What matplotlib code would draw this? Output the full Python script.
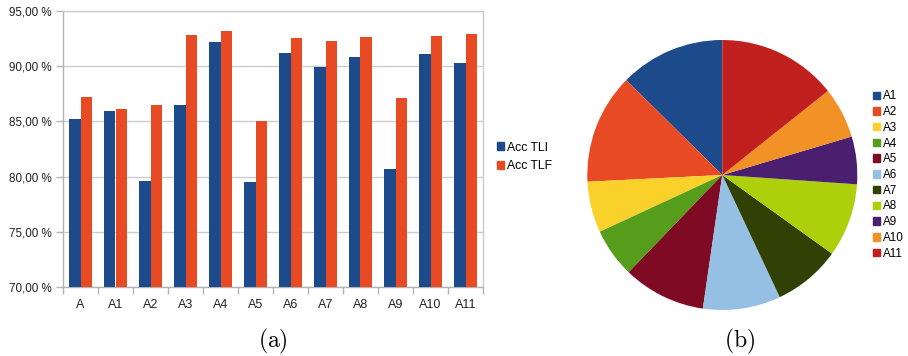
import matplotlib.pyplot as plt
import numpy as np
from matplotlib.patches import Patch

plt.rcParams['font.family'] = ['Liberation Sans', 'DejaVu Sans']
plt.rcParams['mathtext.fontset'] = 'cm'

# accuracy per configuration (%)
categories = ['A', 'A1', 'A2', 'A3', 'A4', 'A5', 'A6', 'A7', 'A8', 'A9', 'A10', 'A11']
acc_tli = [85.2, 85.9, 79.6, 86.5, 92.2, 79.55, 91.2, 89.9, 90.8, 80.7, 91.1, 90.3]
acc_tlf = [87.2, 86.1, 86.5, 92.8, 93.2, 85.0, 92.55, 92.25, 92.6, 87.1, 92.7, 92.95]

# share of each feature group (%)
pie_labels = ['A1', 'A2', 'A3', 'A4', 'A5', 'A6', 'A7', 'A8', 'A9', 'A10', 'A11']
pie_share = [12.6, 13.2, 6.1, 5.9, 9.9, 9.3, 8.1, 8.8, 5.7, 6.1, 14.3]
pie_colors = ['#1c4a8b', '#e84b23', '#f9d12a', '#579d1c', '#7e0b23', '#95c0e3',
              '#314004', '#aecf0b', '#4b1f6f', '#f29126', '#c0211e']

blue = '#1c4a8b'
orange = '#e84b23'
grid_c = '#cccccc'

fig = plt.figure(figsize=(9.08, 3.56), dpi=100)

# --- (a) bar chart ---
ax = fig.add_axes([63 / 908, 1 - 287 / 356, 420 / 908, 276 / 356])
x = np.arange(len(categories))
w = 0.33
ax.bar(x - w / 2, acc_tli, w, color=blue, zorder=3)
ax.bar(x + w / 2, acc_tlf, w, color=orange, zorder=3)
ax.set_ylim(70, 95)
ax.set_xlim(-0.5, len(categories) - 0.5)
yt = np.arange(70, 96, 5)
ax.set_yticks(yt)
ax.set_yticklabels(['%d,00 %%' % v for v in yt], fontsize=8.4, color='#222222')
ax.yaxis.grid(True, color=grid_c, linewidth=1, zorder=0)
ax.set_xticks(x)
ax.set_xticklabels(categories, fontsize=9, color='#222222')
ax.tick_params(axis='x', length=0, pad=9)
ax.set_xticks(np.arange(-0.5, len(categories), 1), minor=True)
ax.tick_params(axis='x', which='minor', length=5, color='#b3b3b3', width=1)
ax.tick_params(axis='y', length=5, color='#b3b3b3', width=1, pad=3)
for s in ax.spines.values():
    s.set_color('#b3b3b3')
    s.set_linewidth(1)
ax.spines['top'].set_color(grid_c)
ax.spines['right'].set_color(grid_c)

fig.legend(handles=[Patch(color=blue, label='Acc TLI'), Patch(color=orange, label='Acc TLF')],
           loc='center left', bbox_to_anchor=(497 / 908, 1 - 157 / 356), frameon=False,
           fontsize=8.8, handlelength=0.6, handleheight=0.6, handletextpad=0.25,
           labelspacing=0.55, borderpad=0, borderaxespad=0)

fig.text(273 / 908, 1 - 341 / 356, r'$\mathrm{(a)}$', fontsize=17, ha='center', va='center')

# --- (b) pie chart ---
pax = fig.add_axes([(722.3 - 135) / 908, 1 - (175 + 135) / 356, 270 / 908, 270 / 356])
pax.pie(pie_share, colors=pie_colors, startangle=90, counterclock=True,
        wedgeprops=dict(linewidth=0))
pax.set_xlim(-1, 1)
pax.set_ylim(-1, 1)
pax.set_aspect('equal')

fig.legend(handles=[Patch(color=c, label=l) for c, l in zip(pie_colors, pie_labels)],
           loc='center left', bbox_to_anchor=(873 / 908, 1 - 175 / 356), frameon=False,
           fontsize=8.4, handlelength=0.6, handleheight=0.6, handletextpad=0.25,
           labelspacing=0.32, borderpad=0, borderaxespad=0)

fig.text(740 / 908, 1 - 341 / 356, r'$\mathrm{(b)}$', fontsize=17, ha='center', va='center')

fig.savefig('out.png', dpi=100)
